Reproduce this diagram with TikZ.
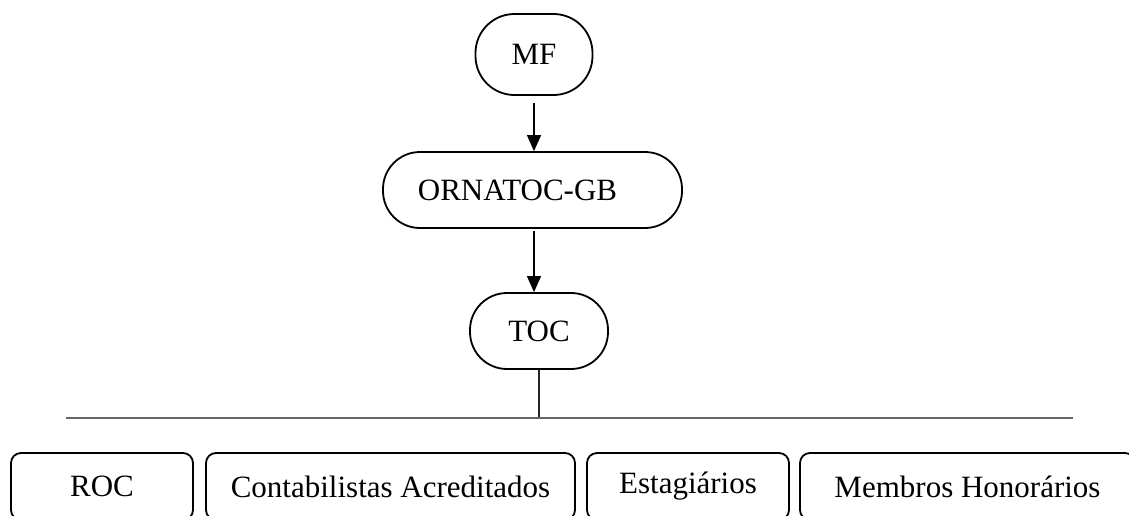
\documentclass[tikz,border=0pt]{standalone}
\usepackage{fontspec}
\setmainfont{Liberation Serif}
\usetikzlibrary{arrows.meta, positioning}

\begin{document}
\begin{tikzpicture}[x=1pt, y=-1pt,
        pill/.style={draw, line width=1.8pt, rounded corners=37pt, inner sep=0pt,
            font=\fontsize{31}{37}\selectfont},
        member/.style={draw, line width=1.8pt, rounded corners=10pt, inner sep=0pt,
            minimum height=67pt, font=\fontsize{31}{37}\selectfont},
        arr/.style={-{Triangle[width=14pt,length=16pt]}, line width=1.1pt},
        stem/.style={line width=1.1pt, black!85},
        bus/.style={line width=2pt, black!60}]
    \useasboundingbox (0,0) rectangle (1129,515);
    \clip (0,0) rectangle (1129,515);

    \node[pill, minimum width=117pt, minimum height=81pt, rounded corners=39pt] (mf) at (534,54.5) {MF};
    \node[pill, minimum width=299pt, minimum height=76pt] (orn) at (532.5,190) {ORNATOC-GB\hspace*{30pt}};
    \node[pill, minimum width=138pt, minimum height=76pt] (toc) at (539,331) {TOC};

    \coordinate (busL) at (66,418);
    \coordinate (busR) at (1073,418);

    \node[member, minimum width=182pt] (roc) at (102,486.5) {ROC};
    \node[member, minimum width=369pt] (cont) at (390.5,486.5) {Contabilistas Acreditados};
    \node[member, minimum width=202pt] (estag) at (688,486.5) {Estagiários};
    \node[member, minimum width=335pt] (memb) at (967.5,486.5) {Membros Honorários};

    \draw[arr, shorten <=7pt] (mf.south) -- (mf.south |- orn.north);
    \draw[arr, shorten <=2pt] (mf.south |- orn.south) -- (mf.south |- toc.north);
    \draw[stem] (toc.south) -- (toc.south |- busL);
    \draw[bus] (busL) -- (busR);
\end{tikzpicture}
\end{document}
